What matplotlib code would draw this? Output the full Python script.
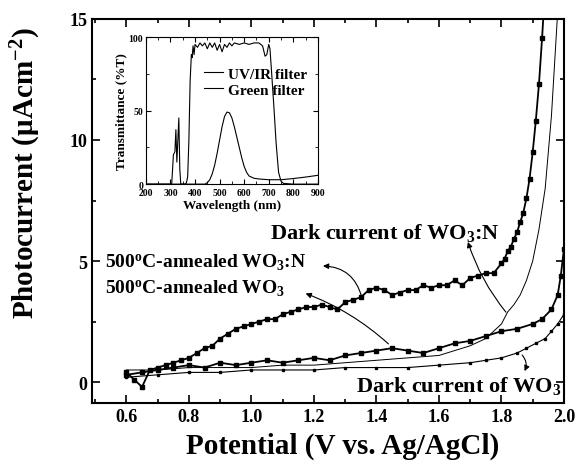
import matplotlib
matplotlib.use('Agg')
import matplotlib.pyplot as plt
from matplotlib.ticker import MultipleLocator

plt.rcParams['font.family'] = ['Liberation Serif', 'DejaVu Serif']
plt.rcParams['font.weight'] = 'bold'
plt.rcParams['axes.labelweight'] = 'bold'
plt.rcParams['mathtext.fontset'] = 'custom'
plt.rcParams['mathtext.rm'] = 'Liberation Serif:bold'
plt.rcParams['mathtext.it'] = 'Liberation Serif:bold'
plt.rcParams['mathtext.bf'] = 'Liberation Serif:bold'

# main panel: photocurrent vs potential
pot_wn = [0.60, 0.625, 0.65, 0.675, 0.70, 0.725, 0.75, 0.775, 0.80, 0.825, 0.85, 0.875,
          0.90, 0.925, 0.95, 0.975, 1.00, 1.025, 1.05, 1.075, 1.10, 1.125, 1.15, 1.175,
          1.20, 1.225, 1.25, 1.275, 1.30, 1.325, 1.35, 1.375, 1.40, 1.425, 1.45, 1.475,
          1.50, 1.525, 1.55, 1.575, 1.60, 1.625, 1.65, 1.675, 1.70, 1.725, 1.75, 1.775,
          1.80, 1.81, 1.82, 1.83, 1.84, 1.85, 1.86, 1.87, 1.88, 1.89, 1.90, 1.91, 1.92,
          1.93, 1.935]
cur_wn = [0.4, 0.1, -0.2, 0.5, 0.6, 0.7, 0.8, 0.9, 1.0, 1.2, 1.4, 1.5,
          1.8, 2.0, 2.2, 2.3, 2.4, 2.5, 2.6, 2.6, 2.8, 2.9, 3.0, 3.1,
          3.1, 3.2, 3.1, 3.0, 3.3, 3.4, 3.5, 3.8, 3.9, 3.8, 3.6, 3.7,
          3.8, 3.8, 4.0, 3.9, 4.0, 4.0, 4.2, 4.0, 4.3, 4.4, 4.5, 4.5,
          4.9, 5.1, 5.4, 5.6, 5.9, 6.2, 6.6, 7.0, 7.6, 8.4, 9.5, 10.8, 12.3,
          14.2, 15.3]

pot_w = [0.60, 0.65, 0.70, 0.75, 0.80, 0.85, 0.90, 0.95, 1.00, 1.05, 1.10, 1.15, 1.20,
         1.25, 1.30, 1.35, 1.40, 1.45, 1.50, 1.55, 1.60, 1.65, 1.70, 1.75, 1.80, 1.85,
         1.90, 1.93, 1.96, 1.98, 1.99, 2.00]
cur_w = [0.3, 0.4, 0.5, 0.6, 0.7, 0.6, 0.8, 0.7, 0.8, 0.9, 0.8, 0.9, 1.0,
         0.9, 1.1, 1.2, 1.3, 1.4, 1.3, 1.2, 1.4, 1.6, 1.7, 1.9, 2.1, 2.2,
         2.4, 2.6, 3.0, 3.6, 4.4, 5.5]

pot_dwn = [0.60, 0.70, 0.80, 0.90, 1.00, 1.10, 1.20, 1.30, 1.40, 1.50, 1.60, 1.65,
           1.70, 1.75, 1.80, 1.82, 1.84, 1.86, 1.88, 1.90, 1.92, 1.94, 1.96, 1.98]
cur_dwn = [0.5, 0.5, 0.6, 0.6, 0.6, 0.7, 0.7, 0.8, 0.9, 1.0, 1.1, 1.3,
           1.5, 1.8, 2.4, 2.9, 3.2, 3.6, 4.2, 5.0, 6.3, 8.0, 11.0, 15.3]

pot_dw = [0.60, 0.70, 0.80, 0.90, 1.00, 1.10, 1.20, 1.30, 1.40, 1.50, 1.60, 1.70,
          1.75, 1.80, 1.85, 1.88, 1.91, 1.94, 1.96, 1.98, 2.00]
cur_dw = [0.2, 0.3, 0.4, 0.4, 0.5, 0.5, 0.5, 0.6, 0.6, 0.6, 0.7, 0.8,
          0.9, 1.0, 1.2, 1.4, 1.6, 1.8, 2.1, 2.4, 2.8]

# inset: filter transmittance
wl_uv = [200, 300, 360, 365, 370, 375, 380, 385, 388, 392, 396, 400, 410, 420, 430,
         440, 450, 460, 470, 480, 490, 500, 510, 520, 530, 540, 550, 560, 580, 600,
         620, 640, 660, 675, 685, 692, 700, 705, 710, 720, 730, 740, 750, 760, 800, 900]
t_uv = [0, 0, 0, 1, 5, 30, 70, 88, 86, 94, 88, 95, 93, 96, 94,
        96, 92, 96, 93, 96, 91, 95, 90, 95, 93, 96, 94, 96, 95, 96,
        95, 96, 96, 94, 87, 88, 95, 92, 80, 55, 28, 8, 2, 0.5, 0, 0]

wl_gr = [200, 300, 305, 312, 318, 322, 326, 330, 334, 338, 342, 350, 440, 450, 460,
         470, 480, 490, 500, 510, 520, 530, 540, 550, 560, 570, 580, 590, 600, 610,
         620, 640, 660, 700, 750, 800, 850, 900]
t_gr = [0, 0, 0, 20, 22, 37, 15, 30, 45, 10, 0, 0, 0, 1, 3,
        7, 13, 21, 30, 39, 46, 49, 48.5, 45, 39, 32, 25, 18, 12, 8,
        5.5, 4, 3.5, 3, 3, 3.8, 4.8, 6]

fig = plt.figure(figsize=(5.79, 4.64), dpi=100)
ax = fig.add_axes([0.159, 0.129, 0.815, 0.828])

mk = dict(color='black', marker='s', markersize=3, linewidth=1.3)
ax.plot(pot_wn, cur_wn, **mk)
ax.plot(pot_w, cur_w, **mk)
ax.plot(pot_dwn, cur_dwn, color='black', linewidth=0.7)
ax.plot(pot_dw, cur_dw, color='black', linewidth=0.8, marker='s', markersize=1.5)

ax.set_xlim(0.49, 2.0)
ax.set_ylim(-0.87, 15)
ax.xaxis.set_major_locator(MultipleLocator(0.2))
ax.xaxis.set_minor_locator(MultipleLocator(0.1))
ax.yaxis.set_major_locator(MultipleLocator(5))
ax.yaxis.set_minor_locator(MultipleLocator(2.5))
ax.tick_params(which='both', direction='in', top=True, right=True, width=1.2,
               labelsize=13)
ax.tick_params(which='major', length=6)
ax.tick_params(which='minor', length=3)
ax.set_xticks([0.6, 0.8, 1.0, 1.2, 1.4, 1.6, 1.8, 2.0])
ax.set_xticklabels(['0.6', '0.8', '1.0', '1.2', '1.4', '1.6', '1.8', '2.0'])
for s in ax.spines.values():
    s.set_linewidth(1.5)

ax.set_xlabel('Potential (V vs. Ag/AgCl)', fontsize=21)
ax.set_ylabel(r'Photocurrent ($\mu$Acm$^{-2}$)', fontsize=21)
ax.xaxis.set_label_coords(0.53, -0.075)
ax.yaxis.set_label_coords(-0.105, 0.60)

ax.text(1.06, 6.2, r'Dark current of WO$_3$:N', fontsize=16, ha='left', va='center')
ax.text(0.53, 4.95, r'500$^{\rm o}$C-annealed WO$_3$:N', fontsize=14, ha='left', va='center')
ax.text(0.53, 3.9, r'500$^{\rm o}$C-annealed WO$_3$', fontsize=14, ha='left', va='center')
ax.text(1.99, -0.1, r'Dark current of WO$_3$', fontsize=16, ha='right', va='center')

arr = dict(arrowstyle='-|>', color='black', lw=0.8, mutation_scale=8)
ax.annotate('', xy=(1.69, 5.9), xytext=(1.82, 2.8),
            arrowprops=dict(connectionstyle='arc3,rad=-0.1', **arr))
ax.annotate('', xy=(1.22, 4.8), xytext=(1.355, 3.4),
            arrowprops=dict(connectionstyle='arc3,rad=0.4', **arr))
ax.annotate('', xy=(1.165, 3.7), xytext=(1.445, 1.5),
            arrowprops=dict(connectionstyle='arc3,rad=0.1', **arr))
ax.annotate('', xy=(1.87, 0.35), xytext=(1.86, 1.2),
            arrowprops=dict(connectionstyle='arc3,rad=-0.4', **arr))

# inset
ins = fig.add_axes([0.252, 0.601, 0.297, 0.317])
ins.plot(wl_uv, t_uv, color='black', linewidth=0.8, label='UV/IR filter')
ins.plot(wl_gr, t_gr, color='black', linewidth=0.8, label='Green filter')
ins.set_xlim(200, 900)
ins.set_ylim(0, 100)
ins.xaxis.set_major_locator(MultipleLocator(100))
ins.xaxis.set_minor_locator(MultipleLocator(50))
ins.yaxis.set_major_locator(MultipleLocator(50))
ins.yaxis.set_minor_locator(MultipleLocator(25))
ins.tick_params(which='both', direction='in', top=True, right=True, labelsize=7)
ins.tick_params(axis='x', pad=3)
ins.tick_params(axis='y', pad=2)
ins.tick_params(which='major', length=3.5)
ins.tick_params(which='minor', length=2)
ins.set_xlabel('Wavelength (nm)', fontsize=9.5, labelpad=1)
ins.set_ylabel('Transmittance (%T)', fontsize=9.5, labelpad=1)
ins.legend(loc='upper right', bbox_to_anchor=(1.0, 0.87), frameon=False, fontsize=11,
           handlelength=1.3, handletextpad=0.3, labelspacing=0.15, borderpad=0.2)

fig.savefig('out.png', dpi=100)
